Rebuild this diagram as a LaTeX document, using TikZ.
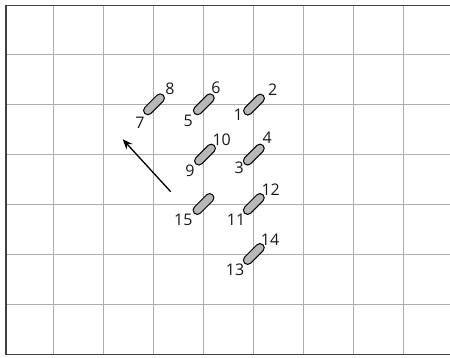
\documentclass[tikz,border=0pt]{standalone}
\usepackage{fontspec}
\setmainfont{Open Sans}
\usetikzlibrary{shapes.misc,arrows.meta}
\tikzset{
  gridline/.style={draw=black!32, line width=0.9pt},
  frameline/.style={draw=black!75, line width=1.8pt},
  stitch/.style={rounded rectangle, draw=black, line width=1pt, fill=black!28,
    minimum width=26pt, minimum height=8.5pt, inner sep=0pt, rotate=45},
  num/.style={font=\fontsize{16}{16}\selectfont, text=black!90, inner sep=0pt},
  dirarrow/.style={draw=black, line width=1.3pt, -{Stealth[length=10pt,width=8pt]}}
}
\begin{document}
\begin{tikzpicture}[x=1pt,y=-1pt]
\useasboundingbox (0,0) rectangle (450,358);
\fill[white] (0,0) rectangle (450,358);
% grid
\foreach \i in {0,...,7} { \draw[gridline] (53.5+50*\i,5.5) -- (53.5+50*\i,354.5); }
\foreach \j in {0,...,5} { \draw[gridline] (6,54.3+50*\j) -- (450,54.3+50*\j); }
% frame (open on the right)
\draw[frameline] (452,5.5) -- (6,5.5) -- (6,354.5) -- (452,354.5);
% stitches
\node[stitch] (s78) at (154,104.3) {};
\node[stitch] (s56) at (203.8,104.3) {};
\node[stitch] (s12) at (254,104.6) {};
\node[stitch] (s910) at (205,154.6) {};
\node[stitch] (s34) at (253.8,154.6) {};
\node[stitch] (s15) at (203.5,204) {};
\node[stitch] (s1112) at (253.8,204) {};
\node[stitch] (s1314) at (253.8,254) {};
% labels
\node[num] (n8) at (170,88.3) {8};
\node[num] (n7) at (140,122.7) {7};
\node[num] (n6) at (216,87.3) {6};
\node[num] (n5) at (188.3,121) {5};
\node[num] (n2) at (272.7,89.3) {2};
\node[num] (n1) at (238.3,115) {1};
\node[num] (n10) at (221.7,140) {10};
\node[num] (n9) at (190,171) {9};
\node[num] (n4) at (267.3,137.7) {4};
\node[num] (n3) at (239.3,167.3) {3};
\node[num] (n15) at (183.3,220) {15};
\node[num] (n12) at (270.7,189.3) {12};
\node[num] (n11) at (236,220) {11};
\node[num] (n14) at (270,239.3) {14};
\node[num] (n13) at (235,270) {13};
% direction arrow
\coordinate (atail) at (170.7,191.7);
\coordinate (ahead) at (122.7,139.3);
\draw[dirarrow] (atail) -- (ahead);
\end{tikzpicture}
\end{document}
